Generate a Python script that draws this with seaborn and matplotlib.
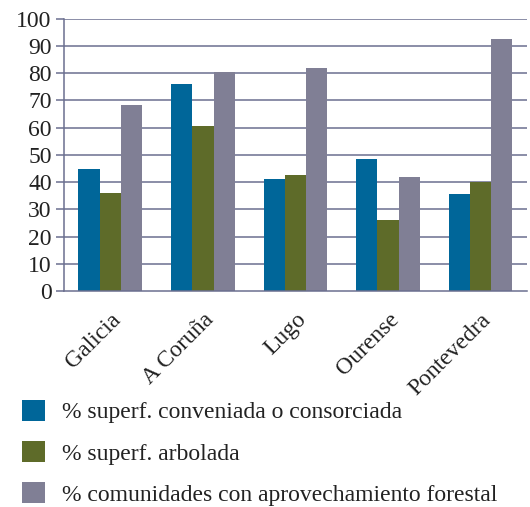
import matplotlib
matplotlib.use("Agg")
import matplotlib.pyplot as plt
import seaborn as sns
import pandas as pd
from matplotlib.patches import Patch
from matplotlib.ticker import FixedLocator

categories = ["Galicia", "A Coruña", "Lugo", "Ourense", "Pontevedra"]
series_names = ["% superf. conveniada o consorciada",
                "% superf. arbolada",
                "% comunidades con aprovechamiento forestal"]
conveniada = [45, 76, 41, 48.5, 35.5]
arbolada = [36, 60.5, 42.5, 26, 40]
comunidades = [68.5, 80.5, 82, 42, 92.5]
colors = ["#006699", "#5e6b29", "#807f95"]
yticks = list(range(0, 101, 10))

rows = []
for name, vals in zip(series_names, [conveniada, arbolada, comunidades]):
    for c, v in zip(categories, vals):
        rows.append({"cat": c, "serie": name, "val": v})
df = pd.DataFrame(rows)

sns.set_style("white")
plt.rcParams["font.family"] = ["Liberation Serif", "DejaVu Serif"]

fig = plt.figure(figsize=(5.30, 5.07), dpi=100)
ax = fig.add_axes([0.121, 0.426, 0.873, 0.537])
gridc = "#6b6f8f"
for y in yticks[1:]:
    ax.axhline(y, color=gridc, lw=1.1, zorder=0)

sns.barplot(data=df, x="cat", y="val", hue="serie", palette=colors,
            width=0.69, saturation=1, ax=ax, legend=False, zorder=2)
for p in ax.patches:
    p.set_edgecolor("none")

ax.set_xlim(-0.5, 4.5)
ax.set_ylim(0, 100)
ax.set_yticks(yticks)
ax.set_yticklabels([str(t) for t in yticks], fontsize=17, color="#222222")
ax.set_xlabel("")
ax.set_ylabel("")
ax.set_xticks(range(len(categories)))
ax.set_xticklabels(categories, rotation=45, ha="right", rotation_mode="anchor",
                   fontsize=17, color="#222222")
ax.tick_params(axis="x", which="major", length=0, pad=13)
ax.xaxis.set_minor_locator(FixedLocator([-0.5, 0.5, 1.5, 2.5, 3.5]))
ax.tick_params(axis="x", which="minor", length=6, color=gridc, width=1.1)
ax.tick_params(axis="y", length=6, color=gridc, width=1.1, pad=3, left=True)
for s in ["top", "right"]:
    ax.spines[s].set_visible(False)
ax.spines["left"].set_color(gridc)
ax.spines["left"].set_linewidth(1.1)
ax.spines["bottom"].set_color(gridc)
ax.spines["bottom"].set_linewidth(1.1)

handles = [Patch(facecolor=c, edgecolor="none") for c in colors]
fig.legend(handles, series_names, loc="upper left", bbox_to_anchor=(0.024, 0.23),
           frameon=False, fontsize=17, handlelength=0.95, handleheight=1.0,
           handletextpad=0.75, labelspacing=0.74, borderaxespad=0,
           labelcolor="#222222")

fig.savefig("out.png", dpi=100)
